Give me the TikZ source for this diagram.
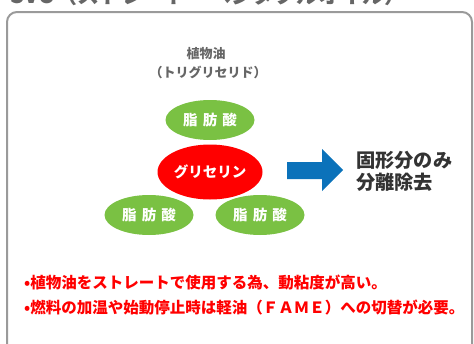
\documentclass[tikz,border=0pt]{standalone}
\usepackage{fontspec}
\newfontfamily\jp{Noto Sans CJK JP}
\usetikzlibrary{shapes.geometric}
\definecolor{leaf}{HTML}{7AC143}
\definecolor{hot}{HTML}{FF0000}
\definecolor{flow}{HTML}{0B72BA}
\definecolor{frame}{HTML}{9A9A9A}
\definecolor{ink}{HTML}{333333}
\definecolor{soft}{HTML}{666666}
\tikzset{
  blob/.style={ellipse, inner sep=0pt, text=white, font=\jp\bfseries\fontsize{14.5}{16}\selectfont},
  acid/.style={blob, fill=leaf, minimum width=89pt, minimum height=40pt},
  caption/.style={text=soft, font=\jp\bfseries\fontsize{13}{14}\selectfont, inner sep=0pt},
  note/.style={text=hot, font=\jp\bfseries\fontsize{15.5}{17}\selectfont, inner sep=0pt, anchor=west},
  result/.style={text=ink, font=\jp\bfseries\fontsize{19.2}{21}\selectfont, inner sep=0pt, anchor=west}
}
\begin{document}
\begin{tikzpicture}[x=1pt,y=-1pt]
\useasboundingbox (0,0) rectangle (474,343);
\begin{scope}
\clip (0,0) rectangle (474,343);
\node[text=soft, font=\jp\bfseries\fontsize{22}{24}\selectfont, inner sep=0pt, anchor=base west] (title) at (10,3) {SVO（ストレート・ベジタブルオイル）};
\draw[frame, line width=2pt, rounded corners=10pt] (7,12) rectangle (472,380);
\end{scope}
\node[caption] (oil) at (206,54) {植物油};
\node[caption] (tg) at (208,72) {（トリグリセリド）};
\node[acid] (fa1) at (210,120) {脂\hspace{0.35em}肪\hspace{0.35em}酸};
\node[acid] (fa2) at (149,215) {脂\hspace{0.35em}肪\hspace{0.35em}酸};
\node[acid] (fa3) at (260,215) {脂\hspace{0.35em}肪\hspace{0.35em}酸};
\node[blob, fill=hot, minimum width=105pt, minimum height=55pt] (gly) at (210,172) {グリセリン};
\fill[flow] (287,162) -- (322,162) -- (322,149) -- (343,170) -- (322,191) -- (322,179) -- (287,179) -- cycle;
\coordinate (tip) at (343,170);
\node[result] (r1) at (356,160) {固形分のみ};
\node[result] (r2) at (356,182) {分離除去};
\node[note] (n1) at (24,283) {•植物油をストレートで使用する為、動粘度が高い。};
\node[note] (n2) at (24,308) {•燃料の加温や始動停止時は軽油（ＦＡＭＥ）への切替が必要。};
\end{tikzpicture}
\end{document}
